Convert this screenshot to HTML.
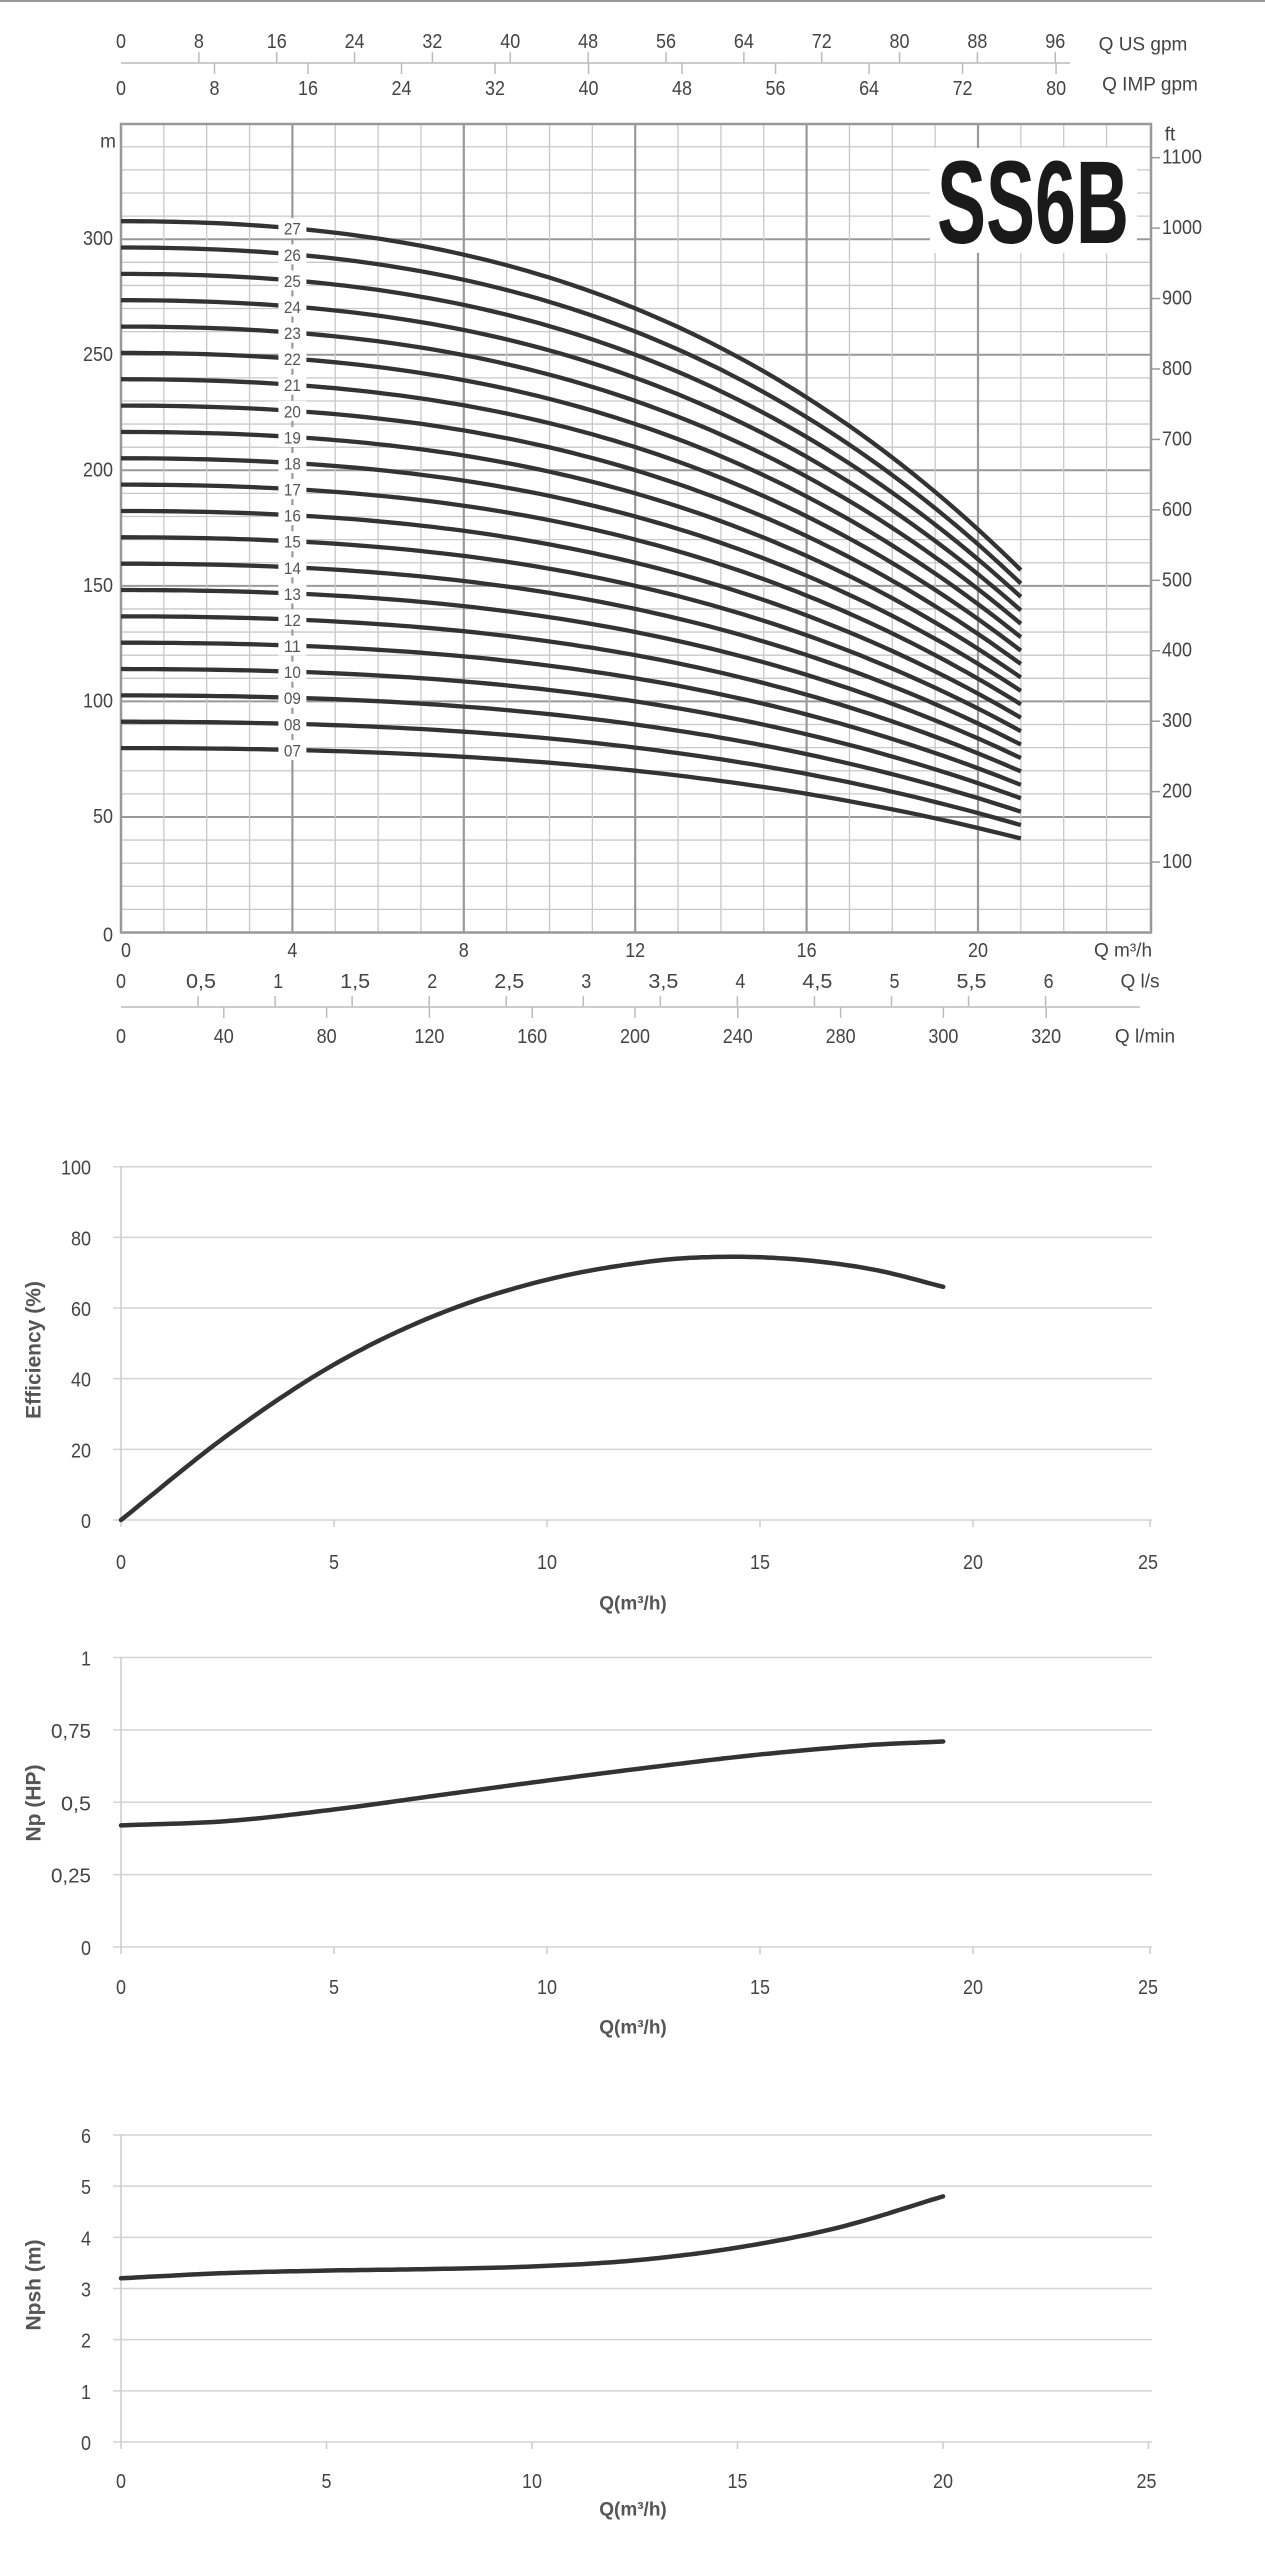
<!DOCTYPE html>
<html><head><meta charset="utf-8"><style>
html,body{margin:0;padding:0;background:#fff;}
svg{display:block;}
text{font-family:"Liberation Sans",sans-serif;fill:#444;}
</style></head><body>
<svg id="s" width="1265" height="2560" xmlns="http://www.w3.org/2000/svg"></svg>
<script>
const s=document.getElementById('s');let h='';
function L(x1,y1,x2,y2,c,w){h+=`<line x1="${x1}" y1="${y1}" x2="${x2}" y2="${y2}" stroke="${c}" stroke-width="${w}"/>`;}
function T(x,y,t,fs,anc,extra){const str=''+t;const num=/^[0-9,]+$/.test(str);
 const tl=num?`textLength="${(str.length*fs*0.5).toFixed(1)}" lengthAdjust="spacingAndGlyphs"`:'';
 h+=`<text x="${x}" y="${y}" font-size="${fs}" text-anchor="${anc||'middle'}" dominant-baseline="central" ${tl} ${extra||''}>${t}</text>`;}
L(0,1,1265,1,'#999',2);
const X=q=>121+q*42.85, Y=m=>932.5-m*2.311;
for(let m=10;m<350;m+=10){L(121,Y(m),1151,Y(m),m%50==0?'#999':'#c8c8c8',m%50==0?2:1.3);}
for(let q=1;q<24;q++){L(X(q),124,X(q),932.5,q%4==0?'#999':'#c8c8c8',q%4==0?2.2:1.3);}
h+=`<rect x="121" y="124" width="1030" height="808.5" fill="none" stroke="#999" stroke-width="2.5"/>`;
h+=`<rect x="930" y="148" width="207" height="105" fill="#fff"/>`;
h+=`<text x="937" y="243" font-size="118" font-weight="bold" textLength="192" lengthAdjust="spacingAndGlyphs" style="fill:#1a1a1a">SS6B</text>`;
const hs=q=>11.4-0.00575*q*q-0.00033*q*q*q;
for(let n=7;n<=27;n++){let d='';for(let i=0;i<=84;i++){const q=i*0.25;d+=(i?'L':'M')+X(q).toFixed(1)+','+Y(n*hs(q)).toFixed(1);}
h+=`<path d="${d}" fill="none" stroke="#333" stroke-width="4.3"/>`;}
for(let n=7;n<=27;n++){const y=Y(n*hs(4));h+=`<rect x="${X(4)-14}" y="${y-10}" width="28" height="20" fill="#fff"/>`;T(X(4),y+1,(n<10?'0':'')+n,17,'middle','style="fill:#555"');}
for(let m=0;m<=300;m+=50)T(113,Y(m)+(m==0?3:0),m,20,'end');
T(108,142,'m',19,'middle');
T(1170,135,'ft',19,'middle');
for(let f=100;f<=1100;f+=100){const y=Y(f*0.3048);L(1151,y,1160,y,'#999',1.5);T(1162,y,f,20,'start');}
for(let q=0;q<=20;q+=4)T(X(q)+(q==0?5:0),951,q,20);
T(1123,951,'Q m³/h',19);
for(let v=0;v<=12;v++){const x=121+v*0.5*154.1;T(x+(v==0?0:3),982,(''+(v/2)).replace('.',','),20);if(v)L(x,996,x,1007,'#bbb',1.5);}
T(1140,982,'Q l/s',19);
L(121,1007,1140,1007,'#ccc',2);
const lm=[0,40,80,120,160,200,240,280,300,320];
lm.forEach((v,i)=>{const x=121+i*102.8;T(x,1037,v,20);if(i)L(x,1007,x,1018,'#bbb',1.5);});
T(1145,1037,'Q l/min',19);
L(121,63,1070,63,'#ccc',2);
for(let v=0;v<=96;v+=8){const x=121+v/4.403*42.85;T(x,42,v,20);if(v)L(x,52,x,63,'#bbb',1.5);}
for(let v=0;v<=80;v+=8){const x=121+v/3.666*42.85;T(x,89,v,20);if(v)L(x,63,x,74,'#bbb',1.5);}
T(1143,45,'Q US gpm',19);T(1150,85,'Q IMP gpm',19);
function cr(pts){return q=>{let i=0;while(i<pts.length-2&&q>pts[i+1][0])i++;
 const p1=pts[i],p2=pts[i+1],p0=pts[Math.max(i-1,0)],p3=pts[Math.min(i+2,pts.length-1)];
 const t=(q-p1[0])/(p2[0]-p1[0]);
 const m1=(p2[1]-p0[1])/(p2[0]-p0[0])*(p2[0]-p1[0]),m2=(p3[1]-p1[1])/(p3[0]-p1[0])*(p2[0]-p1[0]);
 const t2=t*t,t3=t2*t;return (2*t3-3*t2+1)*p1[1]+(t3-2*t2+t)*m1+(-2*t3+3*t2)*p2[1]+(t3-t2)*m2;};}
function chart(y0,y1,vals,labs,ttl,ttly,xly,xtly,pts,even){
 const f=cr(pts),qmax=pts[pts.length-1][0];
 const yy=v=>y0-(v-vals[0])/(vals[vals.length-1]-vals[0])*(y0-y1);
 vals.forEach((v,i)=>{L(113,yy(v),1152,yy(v),'#d4d4d4',1.5);T(91,yy(v)+2,labs[i],20,'end');});
 L(121,y1,121,y0,'#ccc',1.5);
 const xs=even?q=>121+q*41.1:q=>(q<=20?121+q*42.6:1150);
 for(let q=0;q<=25;q+=5){L(xs(q),y0,xs(q),y0+7,'#ccc',1.5);T(xs(q)+(q==25?-2:0),xly,q,20);}
 h+=`<text x="633" y="${xtly}" font-size="19" font-weight="bold" text-anchor="middle" dominant-baseline="central" style="fill:#555">Q(m³/h)</text>`;
 h+=`<text x="0" y="0" font-size="21" font-weight="bold" text-anchor="middle" dominant-baseline="central" transform="translate(34,${ttly}) rotate(-90)" style="fill:#555">${ttl}</text>`;
 let d='';for(let i=0;i<=150;i++){const q=qmax*i/150;d+=(i?'L':'M')+xs(q).toFixed(1)+','+yy(f(q)).toFixed(1);}
 h+=`<path d="${d}" fill="none" stroke="#333" stroke-width="4.5" stroke-linecap="round"/>`;
}
chart(1520,1166.7,[0,20,40,60,80,100],['0','20','40','60','80','100'],'Efficiency (%)',1350,1563,1604,
 [[0,0],[2.5,24],[5,44],[7.5,58.5],[10,68],[12.5,73.3],[14.3,74.5],[16,73.6],[17.7,70.8],[19.3,66]]);
chart(1947,1657.5,[0,0.25,0.5,0.75,1],['0','0,25','0,5','0,75','1'],'Np (HP)',1803,1988,2028,
 [[0,0.42],[2.5,0.435],[5,0.475],[7.5,0.525],[10,0.575],[12.5,0.622],[15,0.665],[17.5,0.697],[19.3,0.71]]);
chart(2442,2135,[0,1,2,3,4,5,6],['0','1','2','3','4','5','6'],'Npsh (m)',2285,2482,2510,
 [[0,3.2],[2.5,3.3],[5,3.35],[7.5,3.38],[10,3.43],[12.5,3.55],[15,3.8],[17.5,4.2],[20,4.8]],true);
s.innerHTML=h;
</script>
</body></html>
